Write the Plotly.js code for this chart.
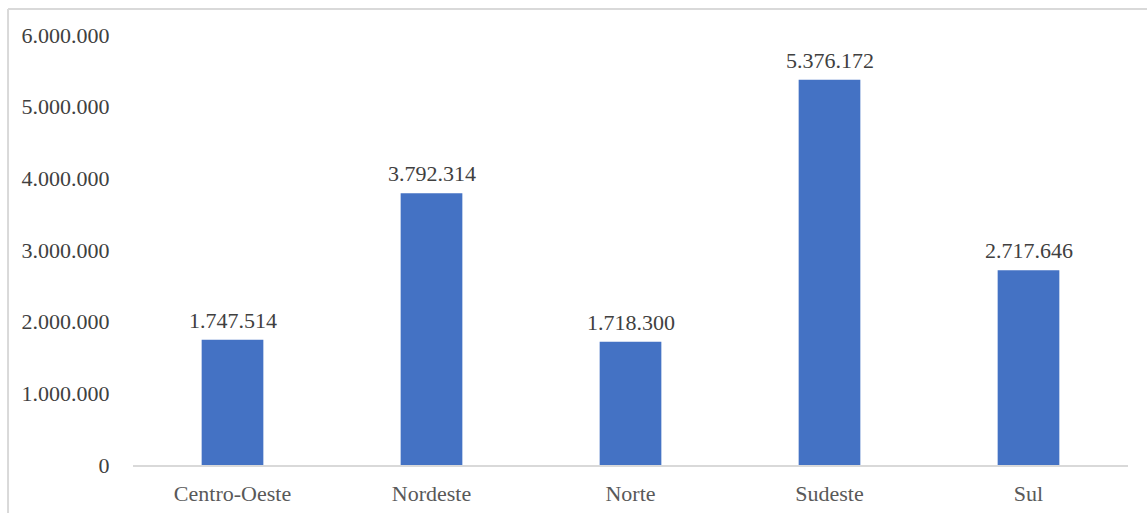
<!DOCTYPE html>
<html>
<head>
<meta charset="utf-8">
<script src="https://cdn.plot.ly/plotly-3.0.1.min.js"></script>
<style>
  html, body { margin: 0; padding: 0; background: #ffffff; }
  #chart { width: 1147px; height: 513px; }
</style>
</head>
<body>
<div id="chart"></div>
<script>
// Population by Brazilian region
const regions = ['Centro-Oeste', 'Nordeste', 'Norte', 'Sudeste', 'Sul'];
const population = [1747514, 3792314, 1718300, 5376172, 2717646];
const yTickValues = [0, 1000000, 2000000, 3000000, 4000000, 5000000, 6000000];

// Thousands separated by dots, as in pt-BR
function fmt(v) {
  return String(v).replace(/\B(?=(\d{3})+(?!\d))/g, '.');
}

const FONT = 'Liberation Serif, Times New Roman, serif';

const trace = {
  type: 'bar',
  x: regions,
  y: population,
  marker: { color: '#4472C4', line: { width: 0 } },
  hoverinfo: 'x+y'
};

const valueLabels = regions.map((r, i) => ({
  x: r,
  y: population[i],
  text: fmt(population[i]),
  showarrow: false,
  xanchor: 'center',
  yanchor: 'bottom',
  yshift: 5,
  font: { family: FONT, size: 22, color: '#404040' }
}));

const layout = {
  width: 1147,
  height: 513,
  margin: { l: 133, r: 19, t: 35, b: 48, pad: 0 },
  paper_bgcolor: '#ffffff',
  plot_bgcolor: '#ffffff',
  showlegend: false,
  bargap: 0.69,
  xaxis: {
    type: 'category',
    showgrid: false,
    showline: true,
    linecolor: '#d9d9d9',
    linewidth: 1.5,
    ticks: 'outside',
    ticklen: 8,
    tickcolor: 'rgba(0,0,0,0)',
    tickfont: { family: FONT, size: 22, color: '#595959' },
    zeroline: false
  },
  yaxis: {
    range: [0, 6000000],
    tickvals: yTickValues,
    ticktext: yTickValues.map(fmt),
    showgrid: false,
    showline: false,
    zeroline: false,
    ticks: 'outside',
    ticklen: 18,
    tickcolor: 'rgba(0,0,0,0)',
    tickfont: { family: FONT, size: 22, color: '#404040' }
  },
  annotations: valueLabels,
  shapes: [
    // frame along the top and left edges
    { type: 'line', xref: 'paper', yref: 'paper', x0: -0.1256, x1: 1.02, y0: 1.0605, y1: 1.0605,
      line: { color: '#d9d9d9', width: 2 } },
    { type: 'line', xref: 'paper', yref: 'paper', x0: -0.1256, x1: -0.1256, y0: 1.0605, y1: -0.12,
      line: { color: '#d9d9d9', width: 2 } }
  ]
};

Plotly.newPlot('chart', [trace], layout, { displayModeBar: false, staticPlot: true });
</script>
</body>
</html>
